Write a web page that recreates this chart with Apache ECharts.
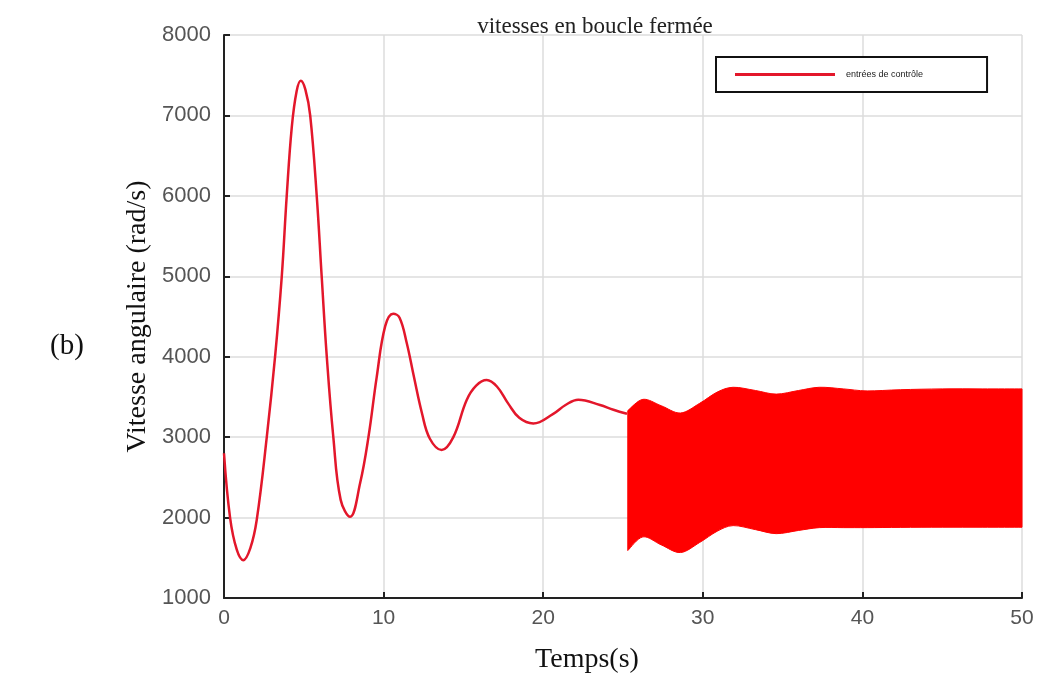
<!DOCTYPE html>
<html lang="fr">
<head>
    <meta charset="UTF-8">
    <title>vitesses en boucle fermée</title>
    <style>
        html, body { margin: 0; padding: 0; background: #fff; }
        #chart_main { width: 1038px; height: 680px; }
    </style>
</head>
<body>
<div id="chart_main"></div>
<script src="https://cdn.jsdelivr.net/npm/echarts@6/dist/echarts.min.js"></script>
<script>
    // régime transitoire (avant la commutation)
    var tTrans = [0, 0.38, 0.8, 1.21, 1.65, 2.05, 2.68, 3.2, 3.62, 3.93, 4.25, 4.55, 4.81, 5.1, 5.4, 5.81, 6.12, 6.44,
        6.85, 7.31, 7.9, 8.53, 9.05, 9.57, 10.1, 10.6, 11.0, 11.45, 11.9, 12.4, 12.9, 13.64, 14.37, 15.2, 15.8,
        16.46, 17.1, 17.8, 18.5, 19.38, 20.63, 21.4, 22.2, 23.56, 24.4, 25.25];
    var vTrans = [2800, 2000, 1600, 1470, 1620, 1970, 3000, 4000, 5000, 6000, 6860, 7300, 7430, 7320, 7000, 6000, 5000, 4000,
        3000, 2220, 2010, 2430, 3000, 3750, 4380, 4535, 4485, 4170, 3750, 3300, 2980, 2840, 3000, 3460, 3640,
        3710, 3630, 3420, 3240, 3170, 3290, 3400, 3465, 3400, 3340, 3290];

    // bande d'oscillation rapide : enveloppes haute et basse
    var tBand = [25.3, 26.25, 27.4, 28.6, 29.8, 30.9, 31.9, 33.3, 34.6, 36, 37.3, 38.8, 40.3, 42.4, 45, 47.5, 50];
    var bandUpper = [3330, 3470, 3390, 3300, 3420, 3560, 3620, 3580, 3535, 3580, 3620, 3600, 3575, 3590, 3600, 3600, 3600];
    var bandLower = [1590, 1760, 1660, 1565, 1690, 1830, 1900, 1850, 1800, 1840, 1875, 1875, 1875, 1878, 1880, 1880, 1880];

    var xTicks = [0, 10, 20, 30, 40, 50];
    var yTicks = [1000, 2000, 3000, 4000, 5000, 6000, 7000, 8000];

    var chart = echarts.init(document.getElementById('chart_main'));

    var transData = tTrans.map(function (t, i) { return [t, vTrans[i]]; });
    var bandData = tBand.map(function (t, i) { return [t, bandLower[i], bandUpper[i]]; });

    var serif = '"Liberation Serif", "DejaVu Serif", serif';
    var sans = '"Liberation Sans", Arial, sans-serif';

    // courbe lissée (catmull-rom -> bézier) à travers des points déjà en pixels
    function curveTo(pts) {
        var d = '';
        for (var i = 0; i < pts.length - 1; i++) {
            var p0 = pts[Math.max(i - 1, 0)], p1 = pts[i], p2 = pts[i + 1], p3 = pts[Math.min(i + 2, pts.length - 1)];
            var c1 = [p1[0] + (p2[0] - p0[0]) / 6, p1[1] + (p2[1] - p0[1]) / 6];
            var c2 = [p2[0] - (p3[0] - p1[0]) / 6, p2[1] - (p3[1] - p1[1]) / 6];
            d += ' C' + c1[0] + ' ' + c1[1] + ' ' + c2[0] + ' ' + c2[1] + ' ' + p2[0] + ' ' + p2[1];
        }
        return d;
    }

    // la bande : enveloppe haute, bord droit, enveloppe basse à rebours, bord gauche
    function renderBand(params, api) {
        if (params.dataIndex !== 0) return;
        var top = [], bottom = [];
        for (var i = 0; i < bandData.length; i++) {
            top.push(api.coord([bandData[i][0], bandData[i][2]]));
            bottom.push(api.coord([bandData[i][0], bandData[i][1]]));
        }
        bottom.reverse();
        var d = 'M' + top[0][0] + ' ' + top[0][1] + curveTo(top) +
            ' L' + bottom[0][0] + ' ' + bottom[0][1] + curveTo(bottom) + ' Z';
        return {
            type: 'path',
            shape: { pathData: d },
            style: { fill: '#ff0000', stroke: '#ff0000', lineWidth: 1 }
        };
    }

    chart.setOption({
        animation: false,
        title: {
            text: 'vitesses en boucle fermée',
            left: 590,
            top: 10,
            textAlign: 'center',
            textStyle: { fontFamily: serif, fontSize: 23, fontWeight: 'normal', color: '#222' }
        },
        legend: {
            left: 716,
            top: 57,
            data: ['entrées de contrôle'],
            icon: 'rect',
            itemWidth: 100,
            itemHeight: 3,
            itemGap: 10,
            padding: [13, 64, 13, 19],
            borderColor: '#111',
            borderWidth: 2,
            backgroundColor: '#fff',
            textStyle: { fontFamily: sans, fontSize: 9, color: '#222', padding: [0, 0, 0, 6] }
        },
        grid: { left: 224, right: 16, top: 35, bottom: 82 },
        graphic: [{
            type: 'text',
            left: 50,
            top: 332,
            style: { text: '(b)', font: '29px ' + serif, fill: '#111' }
        }],
        xAxis: {
            type: 'value',
            min: xTicks[0],
            max: xTicks[xTicks.length - 1],
            interval: 10,
            name: 'Temps(s)',
            nameLocation: 'middle',
            nameGap: 48,
            nameTextStyle: { fontFamily: serif, fontSize: 28, color: '#111', padding: [0, 72, 0, 0] },
            axisLine: { show: true, onZero: false, lineStyle: { color: '#222', width: 2 } },
            axisTick: { show: true, inside: true, length: 6, lineStyle: { color: '#222', width: 2 } },
            axisLabel: { fontFamily: sans, fontSize: 21, color: '#555', margin: 10 },
            splitLine: { show: true, lineStyle: { color: '#dcdcdc', width: 1.5 } }
        },
        yAxis: {
            type: 'value',
            min: yTicks[0],
            max: yTicks[yTicks.length - 1],
            interval: 1000,
            name: 'Vitesse angulaire (rad/s)',
            nameLocation: 'middle',
            nameGap: 72,
            nameTextStyle: { fontFamily: serif, fontSize: 28, color: '#111' },
            axisLine: { show: true, lineStyle: { color: '#222', width: 2 } },
            axisTick: { show: true, inside: true, length: 6, lineStyle: { color: '#222', width: 2 } },
            axisLabel: {
                fontFamily: sans, fontSize: 22, color: '#555', margin: 13,
                formatter: function (v) { return String(v); }
            },
            splitLine: { show: true, lineStyle: { color: '#dcdcdc', width: 1.5 } }
        },
        series: [
            {
                name: 'entrées de contrôle',
                type: 'line',
                data: transData,
                smooth: 0.4,
                showSymbol: false,
                color: '#e3172b',
                lineStyle: { color: '#e3172b', width: 2.5 },
                z: 3
            },
            {
                name: 'bande',
                type: 'custom',
                data: bandData,
                renderItem: renderBand,
                encode: { x: 0, y: [1, 2] },
                silent: true,
                z: 2
            }
        ]
    });

    window.addEventListener('resize', function () {
        chart.resize();
    });
</script>
</body>
</html>
